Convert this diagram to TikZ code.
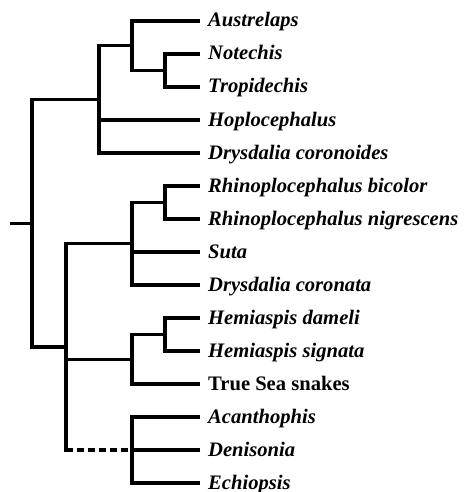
\documentclass[tikz,border=0pt]{standalone}
\usepackage{fontspec}
\setmainfont{Liberation Serif}
\usetikzlibrary{positioning}
\tikzset{
  branch/.style={line width=3.2pt, draw=black},
  weakbranch/.style={branch, dash pattern=on 7pt off 4pt},
  taxon/.style={
    anchor=west, inner xsep=8pt, inner ysep=0pt,
    text height=12pt, text depth=0pt,
    font=\fontsize{20.6}{20.6}\selectfont\bfseries\itshape
  }
}
\begin{document}
\begin{tikzpicture}[x=1pt,y=-1pt]
    \useasboundingbox (0,0) rectangle (463,492);
    % tips
    \foreach \name/\txt [count=\i from 0] in {
        aus/Austrelaps, not/Notechis, tro/Tropidechis, hop/Hoplocephalus,
        dco/Drysdalia coronoides, rbi/Rhinoplocephalus bicolor,
        rni/Rhinoplocephalus nigrescens, sut/Suta, dcn/Drysdalia coronata,
        hda/Hemiaspis dameli, hsi/Hemiaspis signata,
        tss/{\upshape True Sea snakes}, aca/Acanthophis, den/Denisonia,
        ech/Echiopsis}
      \node[taxon] (\name) at (200,21+33*\i) {\txt};
    % inner nodes
    \coordinate (stem) at (10,223.1);
    \coordinate (root) at (32,223.1);
    \coordinate (up) at (99,99.4);
    \coordinate (ag) at (132,45.75);
    \coordinate (nt) at (165,70.5);
    \coordinate (low) at (66,346.9);
    \coordinate (rs) at (132,243.75);
    \coordinate (rp) at (165,202.5);
    \coordinate (hs) at (132,359.25);
    \coordinate (hp) at (165,334.5);
    \coordinate (ac) at (132,450);
    \draw[branch] (stem) -- (root);
    \draw[branch] (up) -| (root) |- (low);
    % upper clade
    \draw[branch] (ag) -| (up) |- (dco.west);
    \draw[branch] (up |- hop) -- (hop.west);
    \draw[branch] (aus.west) -| (ag) |- (nt);
    \draw[branch] (not.west) -| (nt) |- (tro.west);
    % lower clade
    \draw[branch,line cap=rect] (rs) -| (low) -- (low |- ac);
    \draw[branch] (low) |- (hs);
    \draw[weakbranch] (low |- ac) -- (ac);
    \draw[branch] (rp) -| (rs) |- (dcn.west);
    \draw[branch] (rs |- sut) -- (sut.west);
    \draw[branch] (rbi.west) -| (rp) |- (rni.west);
    \draw[branch] (hp) -| (hs) |- (tss.west);
    \draw[branch] (hda.west) -| (hp) |- (hsi.west);
    \draw[branch] (aca.west) -| (ac) |- (ech.west);
    \draw[branch] (ac) -- (den.west);
\end{tikzpicture}
\end{document}
